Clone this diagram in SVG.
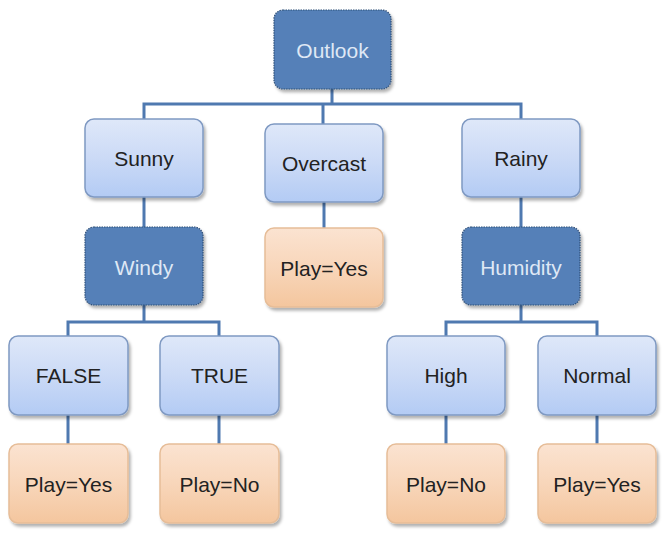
<svg xmlns="http://www.w3.org/2000/svg" width="670" height="535" viewBox="0 0 670 535">
<defs>
<linearGradient id="gBlue" x1="0" y1="0" x2="0" y2="1">
<stop offset="0" stop-color="#dfe8f9"/>
<stop offset="0.5" stop-color="#cbdaf6"/>
<stop offset="1" stop-color="#b3cbf4"/>
</linearGradient>
<linearGradient id="gOrange" x1="0" y1="0" x2="0" y2="1">
<stop offset="0" stop-color="#fbe3d1"/>
<stop offset="0.5" stop-color="#f8d6ba"/>
<stop offset="1" stop-color="#f4c69e"/>
</linearGradient>
<filter id="sh" x="-10%" y="-10%" width="125%" height="125%">
<feDropShadow dx="2" dy="3" stdDeviation="1.5" flood-color="#000" flood-opacity="0.3"/>
</filter>
</defs>
<style>
.dark rect{fill:#5580b8;stroke:#2f4f78;stroke-width:1.2;stroke-dasharray:1.5 1;filter:url(#sh)}
.light rect{fill:url(#gBlue);stroke:#7f99c2;stroke-width:1.5;filter:url(#sh)}
.leaf rect{fill:url(#gOrange);stroke:#e6bd98;stroke-width:1.5;filter:url(#sh)}
text{font-family:"Liberation Sans",Arial,sans-serif;font-size:21px;text-anchor:middle;dominant-baseline:central}
.dark text{fill:#dfe8f5}
.light text,.leaf text{fill:#222}
.conn{fill:none;stroke:#4f79b0;stroke-width:3}
</style>
<g id="connectors" class="conn">
<path d="M332 89 V104 M144 119 V104 H521 V119 M323 104 V124"/>
<path d="M144 197 V227"/>
<path d="M324 202 V228"/>
<path d="M521 197 V227"/>
<path d="M144 305 V322 M68 336 V322 H219 V336"/>
<path d="M521 305 V322 M446 336 V322 H597 V336"/>
<path d="M68 415 V444 M219 415 V444 M446 415 V444 M597 415 V444"/>
</g>
<g id="outlook" class="dark"><rect x="274" y="10" width="117" height="79" rx="9"/><text x="332.5" y="50">Outlook</text></g>
<g id="sunny" class="light"><rect x="85" y="119" width="118" height="78" rx="9"/><text x="144" y="158">Sunny</text></g>
<g id="overcast" class="light"><rect x="265" y="124" width="118" height="78" rx="9"/><text x="324" y="163">Overcast</text></g>
<g id="rainy" class="light"><rect x="462" y="119" width="118" height="78" rx="9"/><text x="521" y="158">Rainy</text></g>
<g id="windy" class="dark"><rect x="85" y="227" width="118" height="78" rx="9"/><text x="144" y="267">Windy</text></g>
<g id="overcast-yes" class="leaf"><rect x="265" y="228" width="118" height="79" rx="9"/><text x="324" y="268">Play=Yes</text></g>
<g id="humidity" class="dark"><rect x="462" y="227" width="118" height="78" rx="9"/><text x="521" y="267">Humidity</text></g>
<g id="false" class="light"><rect x="9" y="336" width="119" height="79" rx="9"/><text x="68.5" y="375">FALSE</text></g>
<g id="true" class="light"><rect x="160" y="336" width="119" height="79" rx="9"/><text x="219.5" y="375">TRUE</text></g>
<g id="high" class="light"><rect x="387" y="336" width="118" height="79" rx="9"/><text x="446" y="375">High</text></g>
<g id="normal" class="light"><rect x="538" y="336" width="118" height="79" rx="9"/><text x="597" y="375">Normal</text></g>
<g id="false-yes" class="leaf"><rect x="9" y="444" width="119" height="79" rx="9"/><text x="68.5" y="484">Play=Yes</text></g>
<g id="true-no" class="leaf"><rect x="160" y="444" width="119" height="79" rx="9"/><text x="219.5" y="484">Play=No</text></g>
<g id="high-no" class="leaf"><rect x="387" y="444" width="118" height="79" rx="9"/><text x="446" y="484">Play=No</text></g>
<g id="normal-yes" class="leaf"><rect x="538" y="444" width="118" height="79" rx="9"/><text x="597" y="484">Play=Yes</text></g>
</svg>
